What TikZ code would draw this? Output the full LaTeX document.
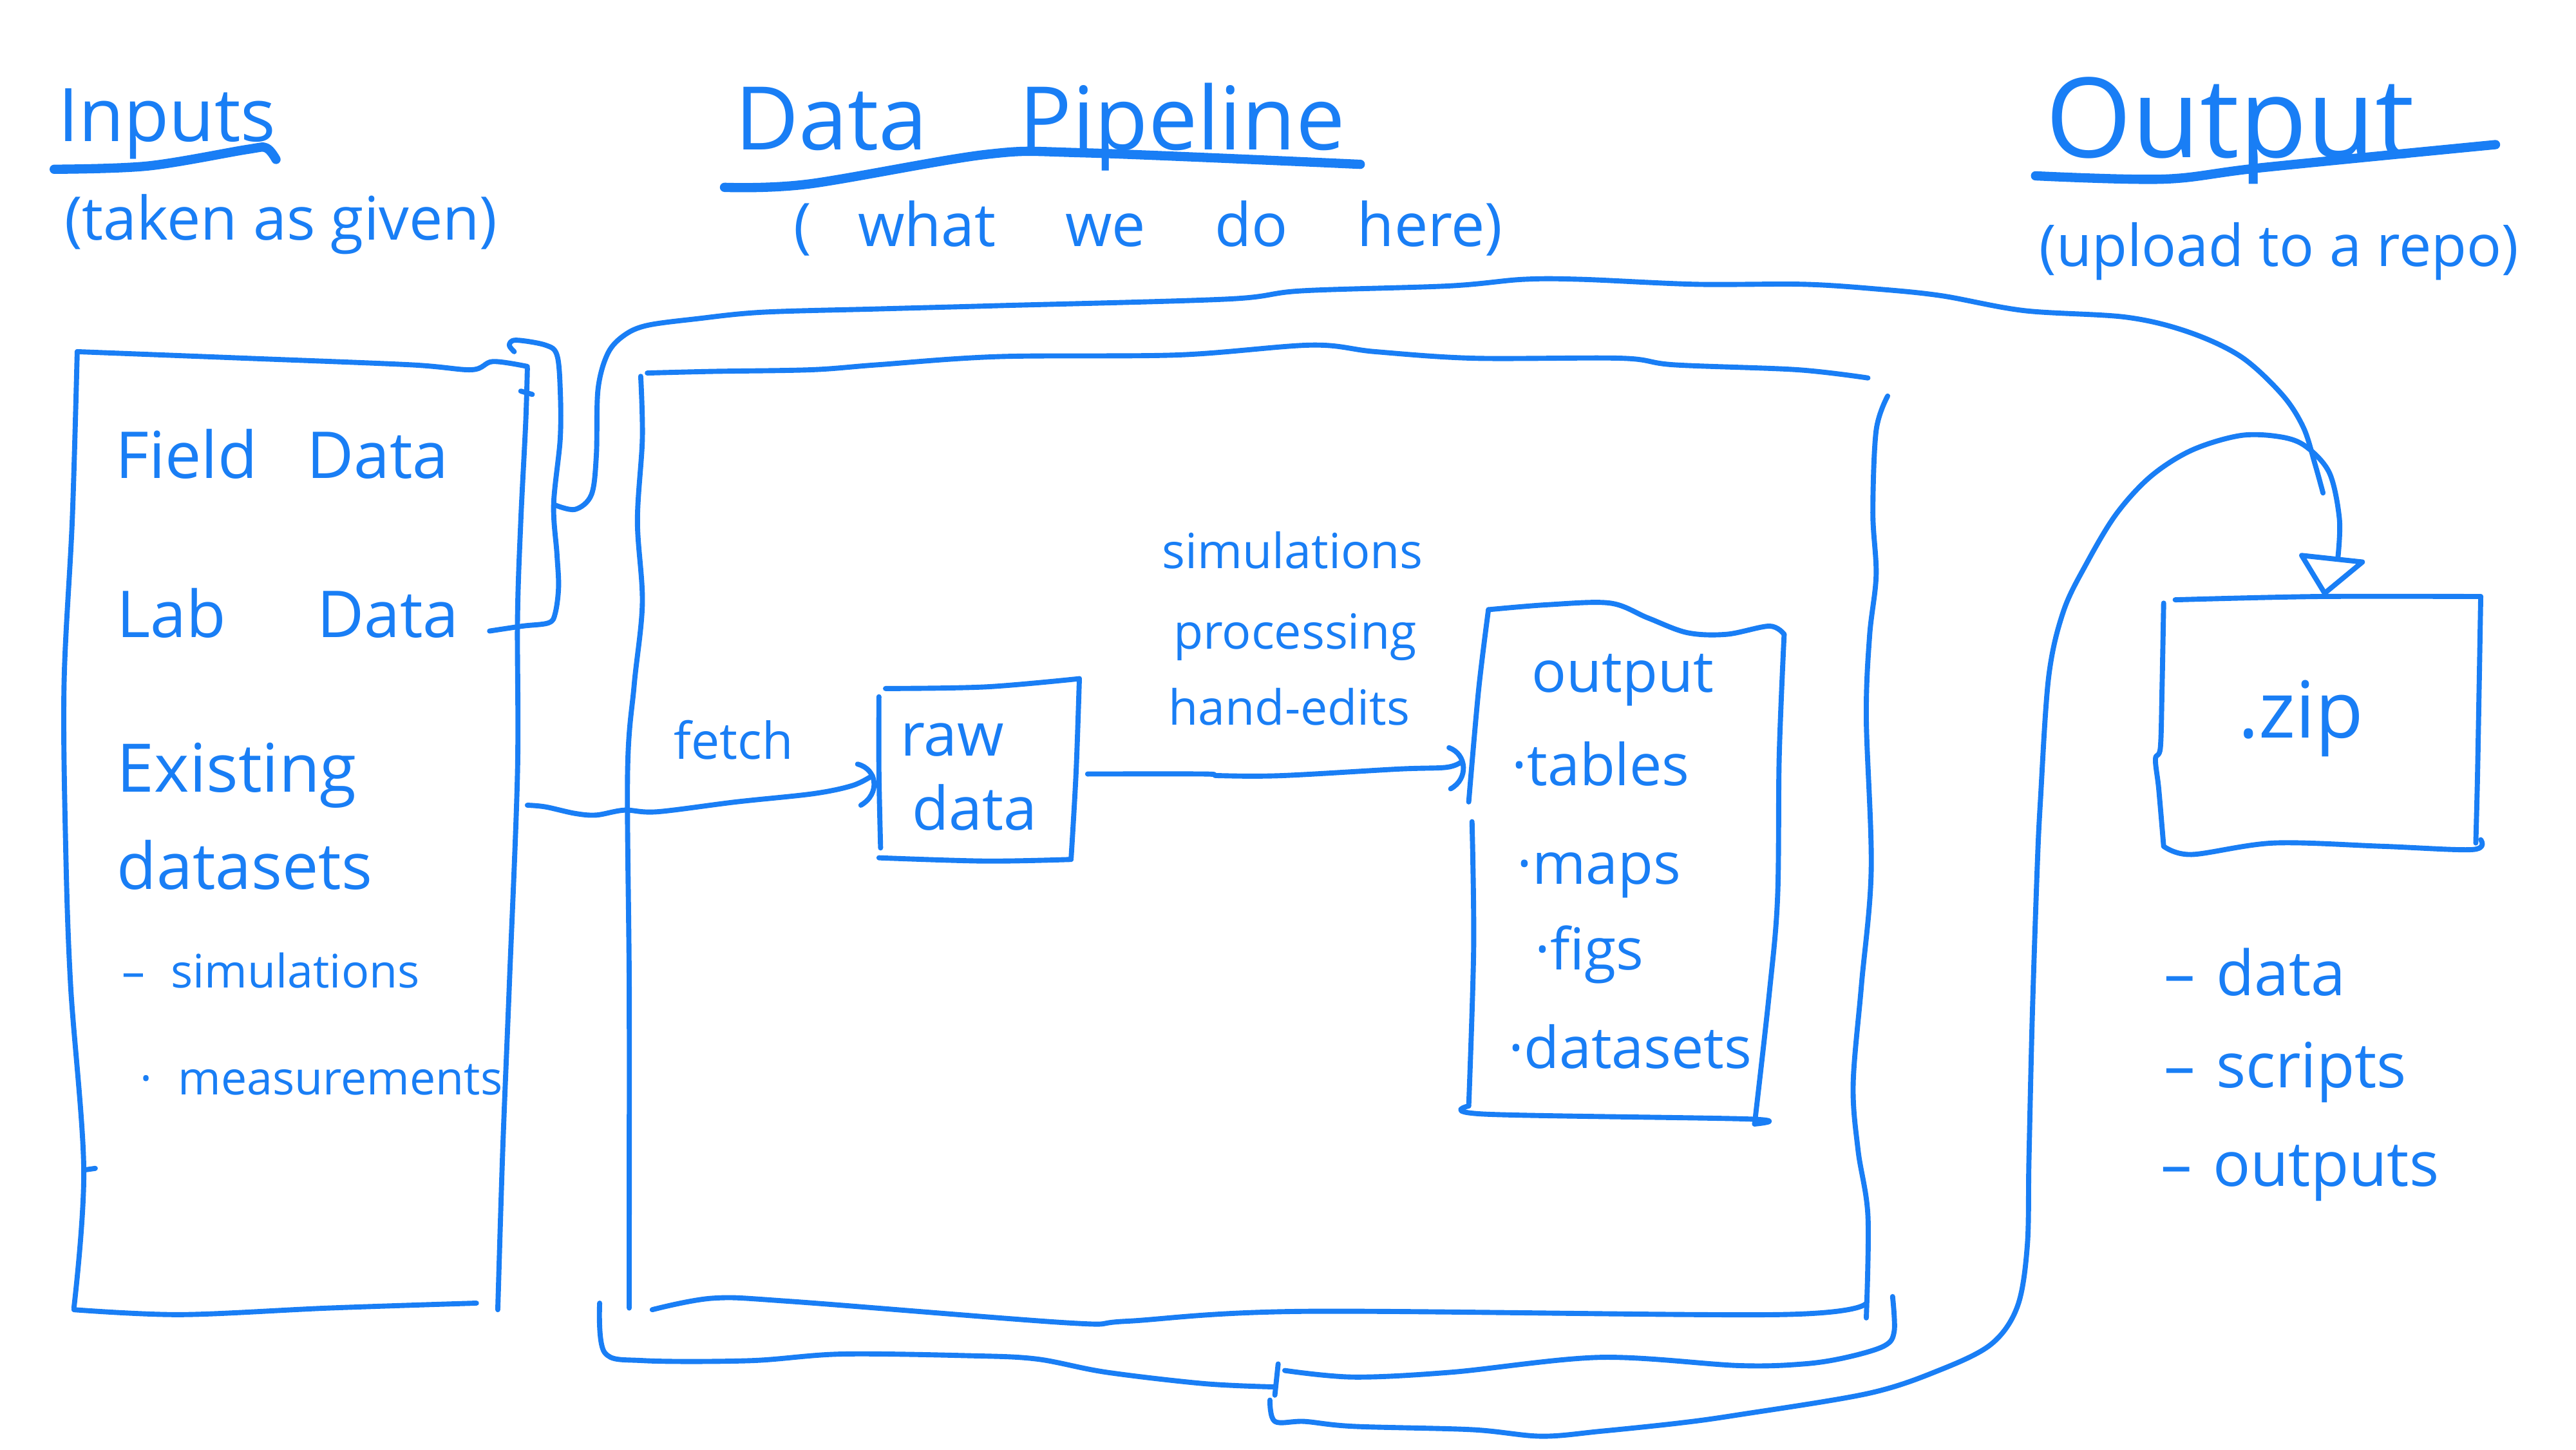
\documentclass[tikz,border=0pt]{standalone}
\usepackage{fontspec}
\setmainfont{Open Sans}
\definecolor{ink}{RGB}{25,126,245}
\begin{document}
\begin{tikzpicture}[x=0.25mm,y=-0.25mm,
  pen/.style={draw=ink,line width=2.2pt,line cap=round,line join=round},
  uline/.style={draw=ink,line width=4pt,line cap=round,line join=round},
  lbl/.style={text=ink,inner sep=0pt,anchor=base west},
  sm/.style={smooth,tension=0.55}]
\useasboundingbox (0,0) rectangle (1568,882);
\fill[white] (0,0) rectangle (1568,882);

% ---------- titles ----------
\node[lbl,font=\fontsize{32}{36}\selectfont] (tIn) at (35,86) {Inputs};
\draw[uline] plot[sm] coordinates {(33,103) (90,101) (150,91) (162,90) (168,97)};
\node[lbl,font=\fontsize{26}{30}\selectfont] (sIn) at (39,146) {(taken as given)};

\node[lbl,font=\fontsize{38}{42}\selectfont] (tPipe) at (447,91) {Data\hspace{30pt} Pipeline};
\draw[uline] plot[sm] coordinates {(441,114) (492,112) (600,94) (660,93) (828,100)};
\node[lbl,font=\fontsize{26}{30}\selectfont] (sPipe) at (483,150) {(\hspace{20pt}what\hspace{30pt}we\hspace{30pt}do\hspace{30pt}here)};

\node[lbl,font=\fontsize{48}{52}\selectfont] (tOut) at (1245,96) {Output};
\draw[uline] plot[sm] coordinates {(1239,107) (1317,109) (1377,102) (1519,88)};
\node[lbl,font=\fontsize{25}{29}\selectfont] (sOut) at (1241,162) {(upload to a repo)};

% ---------- inputs box ----------
\draw[pen] plot[sm] coordinates {(47,214) (150,218) (250,222) (287,225) (300,220) (321,223)};
\draw[pen] plot[sm] coordinates {(321,224) (320,257) (317,317) (315,377) (315,470) (310,600) (306,700) (303,797)};
\draw[pen] plot[sm] coordinates {(47,214) (44,316) (39,416) (40,516) (43,600) (51,712) (45,796)};
\draw[pen] plot[sm] coordinates {(45,797) (110,800) (200,796) (290,793)};
\draw[pen] (51,712) -- (58,711);
\draw[pen] (317,238) -- (324,240);

\node[lbl,font=\fontsize{28}{32}\selectfont] (fld) at (70,291) {Field\hspace{14pt} Data};
\node[lbl,font=\fontsize{28}{32}\selectfont] (lab) at (71,388) {Lab\hspace{32pt} Data};
\node[lbl,font=\fontsize{29}{33}\selectfont] (ex1) at (71,482) {Existing};
\node[lbl,font=\fontsize{28}{32}\selectfont] (ex2) at (71,541) {datasets};
\node[lbl,font=\fontsize{20}{24}\selectfont] (ex3) at (74,601) {–\hspace{6pt} simulations};
\node[lbl,font=\fontsize{20}{24}\selectfont] (ex4) at (85,666) {·\hspace{6pt} measurements};

% ---------- bracket and top loop ----------
\draw[pen] plot[sm] coordinates {(313,214) (310,210) (314,207) (332,210) (339,216) (341,237) (341,267) (337,307) (339,337) (340,357) (338,373) (334,379) (318,381) (298,384)};
\coordinate (brk) at (337,307);
\coordinate (loopEnd) at (1414,300);
\draw[pen] plot[sm] coordinates {(brk) (350,310) (360,301) (363,277) (364,237) (370,215) (380,204) (394,198) (424,194) (464,190) (534,188) (608,186) (747,182) (792,177) (882,174) (927,170) (963,170) (1032,173) (1098,173) (1144,176) (1182,180) (1232,189) (1294,193) (1332,202) (1364,217) (1389,240) (1402,260) (1409,282) (loopEnd)};

% ---------- pipeline box ----------
\draw[pen] plot[sm] coordinates {(394,227) (434,226) (494,225) (534,222) (608,217) (717,216) (798,210) (837,214) (897,218) (987,218) (1019,222) (1094,225) (1137,230)};
\draw[pen] plot[sm] coordinates {(390,229) (391,267) (388,317) (391,367) (386,417) (382,470) (383,600) (383,745) (383,796)};
\draw[pen] plot[sm] coordinates {(1149,241) (1142,262) (1140,312) (1142,350) (1138,387) (1136,437) (1139,529) (1133,600) (1128,660) (1131,700) (1137,740) (1136,802)};
\draw[pen] plot[sm] coordinates {(397,797) (434,790) (482,792) (650,805) (686,804) (794,798) (1082,800) (1136,793)};

% ---------- brace below pipeline ----------
\draw[pen] plot[sm] coordinates {(365,793) (368,823) (392,828) (457,828) (512,824) (590,825) (631,827) (673,835) (733,842) (776,844)};
\draw[pen] (778,830) -- (776,849);
\draw[pen] plot[sm] coordinates {(782,834) (824,838) (884,835) (974,826) (1058,831) (1098,830) (1124,826) (1147,819) (1153,810) (1152,789)};

% ---------- raw data box ----------
\draw[pen] plot[sm] coordinates {(539,419) (600,418) (657,413)};
\draw[pen] plot[sm] coordinates {(535,424) (535,470) (536,516)};
\draw[pen] plot[sm] coordinates {(657,413) (655,470) (652,522)};
\draw[pen] plot[sm] coordinates {(535,522) (600,524) (652,523)};
\node[lbl,font=\fontsize{26}{30}\selectfont] (raw1) at (548,460) {raw};
\node[lbl,font=\fontsize{26}{30}\selectfont] (raw2) at (555,505) {data};
\node[lbl,font=\fontsize{22}{26}\selectfont] (fetch) at (410,462) {fetch};

% ---------- output box (in pipeline) ----------
\draw[pen] plot[sm] coordinates {(906,371) (942,368) (980,367) (1003,376) (1027,385) (1051,386) (1077,381) (1086,386)};
\draw[pen] plot[sm] coordinates {(906,371) (900,420) (894,488)};
\draw[pen] plot[sm] coordinates {(896,500) (897,577) (894,673)};
\draw[pen] plot[sm] coordinates {(894,673) (904,678) (1065,681) (1068,684)};
\draw[pen] plot[sm] coordinates {(1086,386) (1083,460) (1082,546) (1077,604) (1068,684)};
\node[lbl,font=\fontsize{25}{29}\selectfont] (o1) at (932,421) {output};
\node[lbl,font=\fontsize{25}{29}\selectfont] (o2) at (920,478) {·tables};
\node[lbl,font=\fontsize{25}{29}\selectfont] (o3) at (923,538) {·maps};
\node[lbl,font=\fontsize{25}{29}\selectfont] (o4) at (934,590) {·figs};
\node[lbl,font=\fontsize{25}{29}\selectfont] (o5) at (918,650) {·datasets};

\node[lbl,font=\fontsize{21}{25}\selectfont] (p1) at (707,346) {simulations};
\node[lbl,font=\fontsize{21}{25}\selectfont] (p2) at (714,395) {processing};
\node[lbl,font=\fontsize{21}{25}\selectfont] (p3) at (711,441) {hand-edits};

% ---------- arrows in the pipeline ----------
\coordinate (inR) at (321,490);
\coordinate (rawL) at (531,472);
\coordinate (rawR) at (662,471);
\coordinate (outL) at (889,464);
\draw[pen] plot[sm] coordinates {(inR) (332,491) (350,495) (363,496) (380,493) (400,494) (448,488) (495,483) (519,478) (rawL)};
\draw[pen] (522,465) .. controls (534,468) and (536,483) .. (524,490);
\draw[pen] plot[sm] coordinates {(rawR) (733,471) (742,472) (780,472) (851,468) (880,467) (outL)};
\draw[pen] (882,455) .. controls (893,459) and (894,474) .. (883,480);

% ---------- zip box ----------
\draw[pen] plot[sm] coordinates {(1324,365) (1411,363) (1510,363)};
\draw[pen] plot[sm] coordinates {(1317,367) (1316,420) (1315,455) (1312,462) (1314,480) (1317,515)};
\draw[pen] plot[sm] coordinates {(1317,515) (1334,520) (1384,513) (1450,515) (1505,517) (1510,511)};
\draw[pen] plot[sm] coordinates {(1510,363) (1509,420) (1508,474) (1507,513)};
\node[lbl,font=\fontsize{34}{38}\selectfont] (zip) at (1362,449) {.zip};

% ---------- lower loop to zip ----------
\coordinate (braceTip) at (773,852);
\coordinate (zipIn) at (1423,340);
\draw[pen] plot[sm] coordinates {(braceTip) (776,865) (794,865) (824,868) (896,870) (938,874) (974,871) (1022,866) (1058,861) (1137,848) (1180,834) (1212,818) (1228,795) (1234,758) (1235,706) (1237,620) (1240,529) (1242,487) (1247,412) (1256,372) (1270,343) (1288,313) (1309,290) (1334,274) (1364,265) (1389,266) (1404,272) (1418,288) (1424,316) (zipIn)};
\draw[pen] (1401,338) -- (1438,342) -- (1415,361) -- cycle;

% ---------- zip contents ----------
\node[lbl,font=\fontsize{27}{31}\selectfont] (z1) at (1317,606) {–\hspace{2pt} data};
\node[lbl,font=\fontsize{27}{31}\selectfont] (z2) at (1317,662) {–\hspace{2pt} scripts};
\node[lbl,font=\fontsize{27}{31}\selectfont] (z3) at (1315,722) {–\hspace{2pt} outputs};
\end{tikzpicture}
\end{document}
